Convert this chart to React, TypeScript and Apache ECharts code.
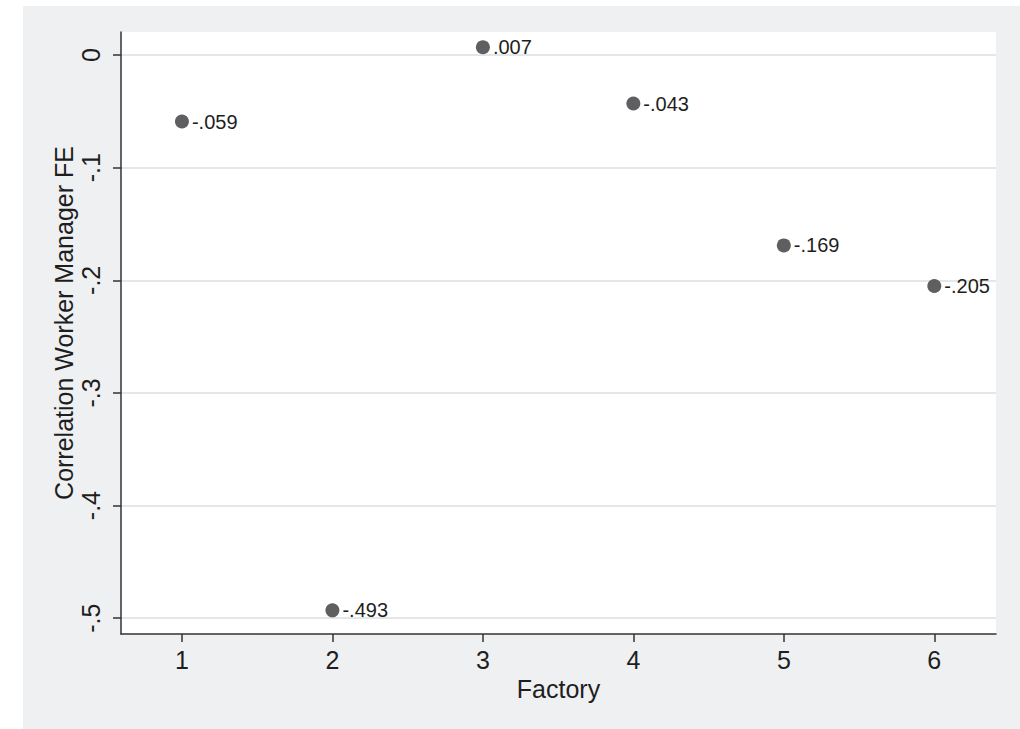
import React, { useEffect, useRef } from "react";
import * as echarts from "echarts";

const factories = [1, 2, 3, 4, 5, 6];
const correlations = [-0.059, -0.493, 0.007, -0.043, -0.169, -0.205];
const yTicks = [0, -0.1, -0.2, -0.3, -0.4, -0.5];
const xTicks = [1, 2, 3, 4, 5, 6];
const yTitle = "Correlation Worker Manager FE";
const xTitle = "Factory";

const fmt = (v: number) => {
  if (v === 0) return "0";
  const s = Math.abs(v).toString().replace(/^0/, "");
  return (v < 0 ? "-" : "") + s;
};
const fmt3 = (v: number) => {
  const s = Math.abs(v).toFixed(3).replace(/^0/, "");
  return (v < 0 ? "-" : "") + s;
};

const FONT = "Liberation Sans";

export default function App() {
  const ref = useRef<HTMLDivElement>(null);
  useEffect(() => {
    if (!ref.current) return;
    const chart = echarts.init(ref.current, undefined, { renderer: "svg" });
    chart.setOption({
      animation: false,
      backgroundColor: "#ffffff",
      graphic: [
        {
          type: "rect",
          z: -10,
          silent: true,
          shape: { x: 23, y: 6, width: 997, height: 723 },
          style: { fill: "#eff0f2" },
        },
        {
          type: "text",
          x: 64,
          y: 323,
          rotation: Math.PI / 2,
          silent: true,
          style: {
            text: yTitle,
            fontFamily: FONT,
            fontSize: 25,
            fill: "#1e1e1e",
            align: "center",
            verticalAlign: "middle",
          },
        },
      ],
      grid: {
        left: 121,
        top: 32,
        right: 24,
        bottom: 95,
        show: true,
        backgroundColor: "#ffffff",
        borderWidth: 0,
      },
      xAxis: {
        type: "value",
        min: 0.595,
        max: 6.41,
        name: xTitle,
        nameLocation: "middle",
        nameGap: 38,
        nameTextStyle: { fontFamily: FONT, fontSize: 25, color: "#1e1e1e" },
        axisLine: { show: true, onZero: false, lineStyle: { color: "#333", width: 1.5 } },
        axisTick: {
          show: true,
          length: 8,
          customValues: xTicks,
          lineStyle: { color: "#333", width: 1.5 },
        },
        axisLabel: {
          customValues: xTicks,
          fontFamily: FONT,
          fontSize: 25,
          color: "#1e1e1e",
          margin: 13,
          formatter: (v: number) => String(v),
        },
        splitLine: { show: false },
      },
      yAxis: {
        type: "value",
        min: -0.514,
        max: 0.0205,
        axisLine: { show: true, onZero: false, lineStyle: { color: "#333", width: 1.5 } },
        axisTick: {
          show: true,
          length: 8,
          customValues: yTicks,
          lineStyle: { color: "#333", width: 1.5 },
        },
        axisLabel: {
          customValues: yTicks,
          rotate: 90,
          fontFamily: FONT,
          fontSize: 25,
          color: "#1e1e1e",
          margin: 18,
          formatter: (v: number) => fmt(Math.round(v * 10) / 10),
        },
        splitLine: {
          show: true,
          customValues: yTicks,
          lineStyle: { color: "#e6e6e6", width: 2 },
        },
      },
      series: [
        {
          type: "scatter",
          symbol: "circle",
          symbolSize: 14,
          itemStyle: { color: "#5f5f61", opacity: 1 },
          data: factories.map((f, i) => [f, correlations[i]]),
          label: {
            show: true,
            position: "right",
            distance: 3,
            fontFamily: FONT,
            fontSize: 20,
            color: "#1e1e1e",
            formatter: (p: any) => fmt3(p.value[1]),
          },
        },
      ],
    });
    return () => chart.dispose();
  }, []);
  return (
    <div
      ref={ref}
      style={{ position: "fixed", left: 0, top: 0, width: 1020, height: 729 }}
    />
  );
}
